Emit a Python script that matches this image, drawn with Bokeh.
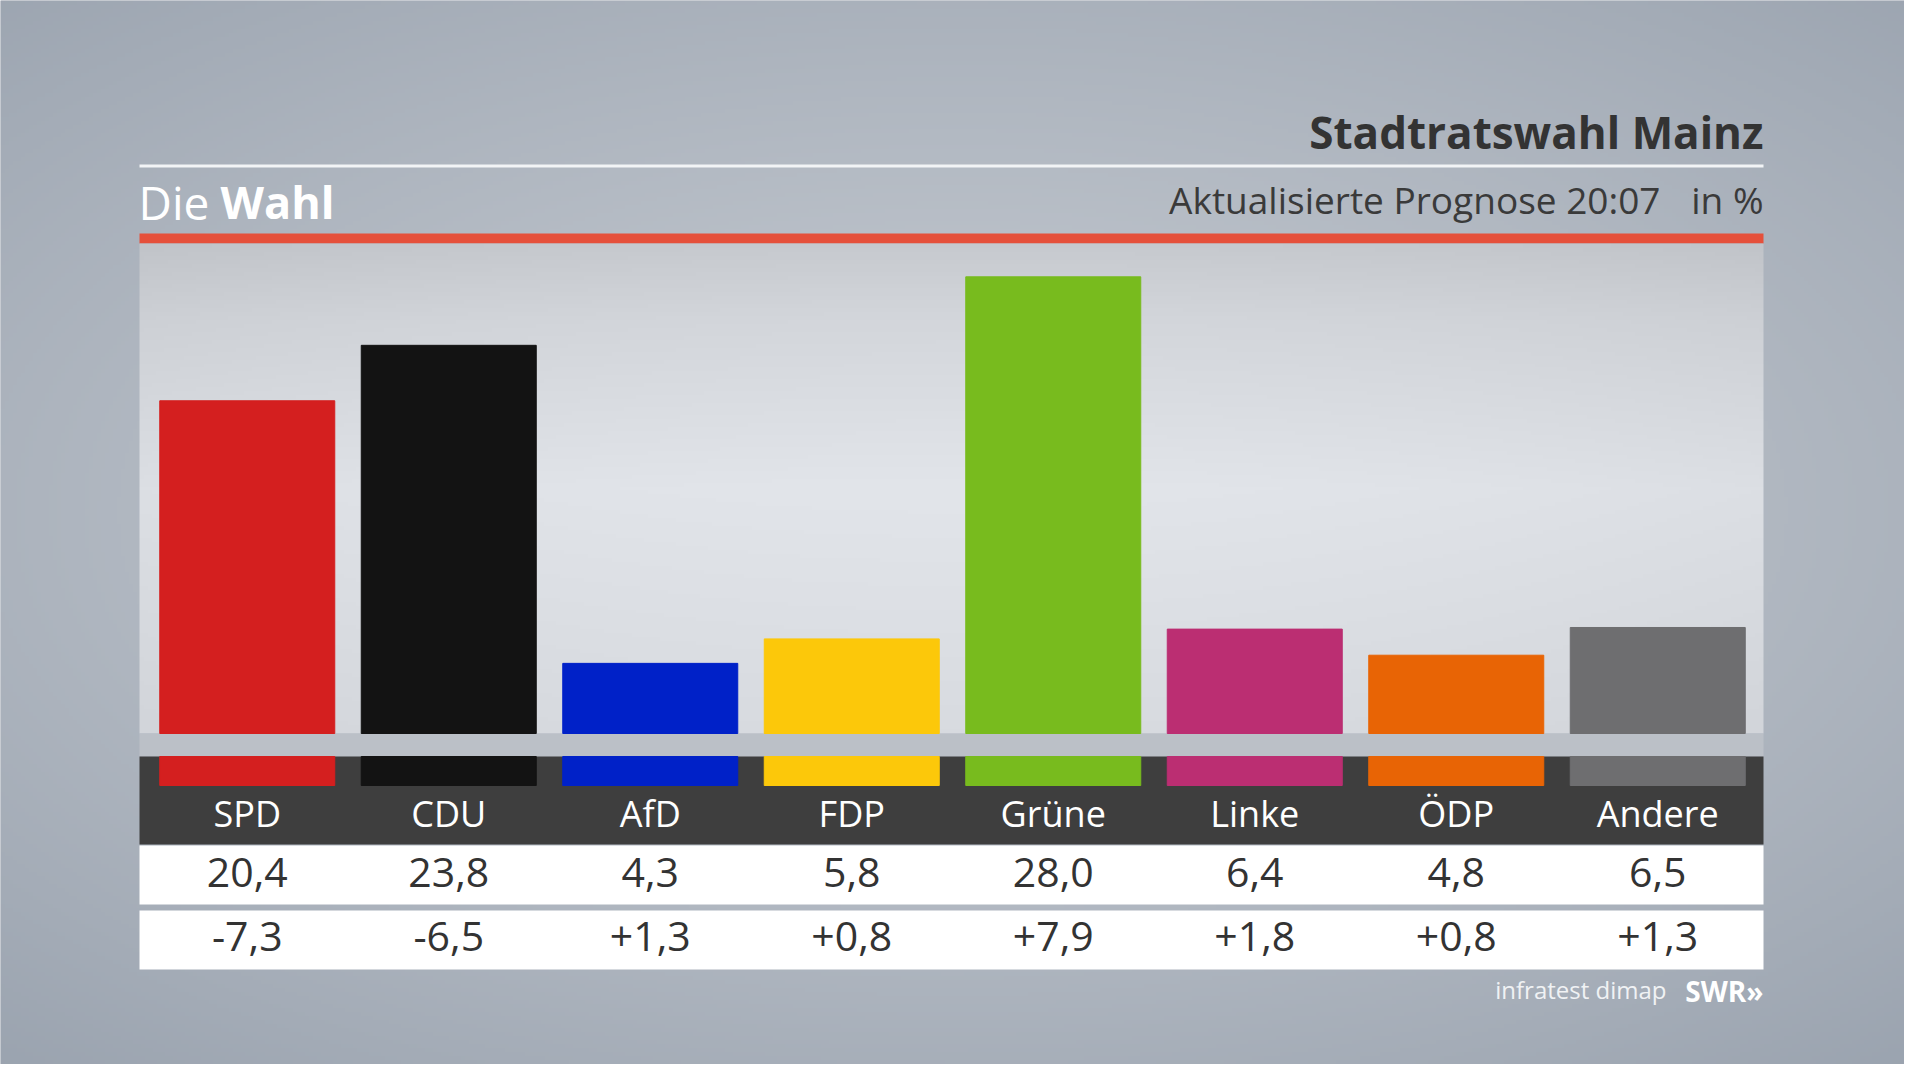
import numpy as np
from bokeh.plotting import figure
from bokeh.models import FactorRange, Range1d, ColumnDataSource
from bokeh.core.properties import value
from bokeh.embed import file_html
from bokeh.resources import INLINE

# ---------------- data ----------------
parties = ["SPD", "CDU", "AfD", "FDP", "Grüne", "Linke", "ÖDP", "Andere"]
shares = [20.4, 23.8, 4.3, 5.8, 28.0, 6.4, 4.8, 6.5]
changes = [-7.3, -6.5, 1.3, 0.8, 7.9, 1.8, 0.8, 1.3]
colors = ["#d41f1f", "#131313", "#0021c8", "#fcc80a",
          "#78bb1e", "#bb2e72", "#e86405", "#6e6e70"]

title = "Stadtratswahl Mainz"
subtitle = "Aktualisierte Prognose 20:07"
unit = "in %"
source_txt = "infratest dimap"

# ---------------- layout constants (reference pixels) ----------------
W, H = 1904, 1064
OFF = 8            # page margin
PX_X = 201.5       # pixels per party slot
PX_Y = 16.31       # pixels per percentage point
BASE = 741         # pixel row of 0 %
PAD = (W / PX_X - len(parties)) / 2


def X(px):
    return (px - OFF) / PX_X - PAD


def Y(px):
    return (BASE - px) / PX_Y


def fmt(v, sign=False):
    s = f"{v:+.1f}" if sign else f"{v:.1f}"
    return s.replace(".", ",")


src = ColumnDataSource(dict(
    party=parties, share=shares, color=colors,
    share_lbl=[fmt(v) for v in shares],
    change_lbl=[fmt(v, True) for v in changes],
))

p = figure(width=W, height=H, output_backend="svg", toolbar_location=None,
           x_range=FactorRange(factors=parties, range_padding=PAD,
                               range_padding_units="absolute"),
           y_range=Range1d(Y(OFF + H), Y(OFF)),
           min_border=0, tools="")
p.axis.visible = False
p.grid.visible = False
p.outline_line_color = None
p.background_fill_color = "#a7aeb8"
p.border_fill_color = "#a7aeb8"


def rgba_img(r, g, b):
    img = np.empty(r.shape, dtype=np.uint32)
    v = img.view(dtype=np.uint8).reshape(r.shape + (4,))
    v[..., 0] = np.clip(r, 0, 255)
    v[..., 1] = np.clip(g, 0, 255)
    v[..., 2] = np.clip(b, 0, 255)
    v[..., 3] = 255
    return img


# background: radial gradient (lighter in the centre)
ny, nx = 266, 476
yy, xx = np.mgrid[0:ny, 0:nx]
fx = (xx / (nx - 1) - 0.5) * 2
fy = ((ny - 1 - yy) / (ny - 1) - 0.48) * 2
d = np.clip(np.sqrt(fx ** 2 * 0.8 + fy ** 2), 0, 1.4) / 1.4
c0 = np.array([198, 203, 210])
c1 = np.array([154, 163, 175])
t = d ** 1.2
bg = rgba_img(c0[0] + (c1[0] - c0[0]) * t,
              c0[1] + (c1[1] - c0[1]) * t,
              c0[2] + (c1[2] - c0[2]) * t)
p.image_rgba(image=[bg], x=X(OFF), y=Y(OFF + H), dw=W / PX_X, dh=H / PX_Y)

# header rule and texts
p.quad(left=X(147), right=X(1771), top=Y(172), bottom=Y(175),
       fill_color="#f2f4f6", line_color=None)
p.text(x=[X(1771)], y=[Y(139)], text=[title], text_font=value("Open Sans"),
       text_font_size="44px", text_font_style="bold", text_align="right",
       text_baseline="alphabetic", text_color="#333333")
p.text(x=[X(146)], y=[Y(209)], text=["Die"], text_font=value("Open Sans"),
       text_font_size="46px", text_align="left",
       text_baseline="alphabetic", text_color="#ffffff")
p.text(x=[X(228)], y=[Y(209)], text=["Wahl"], text_font=value("Open Sans"),
       text_font_size="45px", text_font_style="bold", text_align="left",
       text_baseline="alphabetic", text_color="#ffffff")
p.text(x=[X(1668)], y=[Y(207)], text=[subtitle], text_font=value("Open Sans"),
       text_font_size="37px", text_align="right",
       text_baseline="alphabetic", text_color="#3a3a3a")
p.text(x=[X(1771)], y=[Y(207)], text=[unit], text_font=value("Open Sans"),
       text_font_size="37px", text_align="right",
       text_baseline="alphabetic", text_color="#3a3a3a")

# red rule
p.quad(left=X(147), right=X(1771), top=Y(241), bottom=Y(251),
       fill_color="#e5503b", line_color=None)

# plot panel with soft gradient
pny, pnx = 123, 406
yy, xx = np.mgrid[0:pny, 0:pnx]
v = (pny - 1 - yy) / (pny - 1)          # 0 at top of panel, 1 at bottom
hx = (xx / (pnx - 1) - 0.5) * 2
lum = np.interp(v, [0.0, 0.15, 0.5, 1.0], [201, 213, 228, 218]) - 6 * hx ** 2
panel = rgba_img(lum - 2, lum + 1, lum + 6)
p.image_rgba(image=[panel], x=X(147), y=Y(741), dw=(1771 - 147) / PX_X,
             dh=(741 - 251) / PX_Y)

# grey strip and dark band
p.quad(left=X(147), right=X(1771), top=Y(741), bottom=Y(764),
       fill_color="#bbc0c7", line_color=None)
p.quad(left=X(147), right=X(1771), top=Y(764), bottom=Y(852),
       fill_color="#3e3e3e", line_color=None)
# white table rows
p.quad(left=X(147), right=X(1771), top=Y(853), bottom=Y(912),
       fill_color="#ffffff", line_color=None)
p.quad(left=X(147), right=X(1771), top=Y(918), bottom=Y(977),
       fill_color="#ffffff", line_color=None)

# bars
BW = 175 / PX_X
p.vbar(x="party", top="share", bottom=0, width=BW, source=src,
       fill_color="color", line_color="color")
# colour stripes in dark band
p.vbar(x="party", top=Y(764), bottom=Y(793), width=BW, source=src,
       fill_color="color", line_color="color")

# table texts
p.text(x="party", y=Y(821), text="party", source=src,
       text_font=value("Open Sans"), text_font_size="36px",
       text_align="center", text_baseline="middle", text_color="#ffffff")
p.text(x="party", y=Y(880), text="share_lbl", source=src,
       text_font=value("Open Sans"), text_font_size="41px",
       text_align="center", text_baseline="middle", text_color="#333333")
p.text(x="party", y=Y(944), text="change_lbl", source=src,
       text_font=value("Open Sans"), text_font_size="41px",
       text_align="center", text_baseline="middle", text_color="#333333")

# footer
p.text(x=[X(1674)], y=[Y(997)], text=[source_txt], text_font=value("Open Sans"),
       text_font_size="24px", text_align="right",
       text_baseline="alphabetic", text_color="#f0f2f4")
p.text(x=[X(1771)], y=[Y(998)], text=["SWR»"], text_font=value("Open Sans"),
       text_font_size="28px", text_font_style="bold", text_align="right",
       text_baseline="alphabetic", text_color="#ffffff")

open("out.html", "w").write(file_html(p, INLINE))
